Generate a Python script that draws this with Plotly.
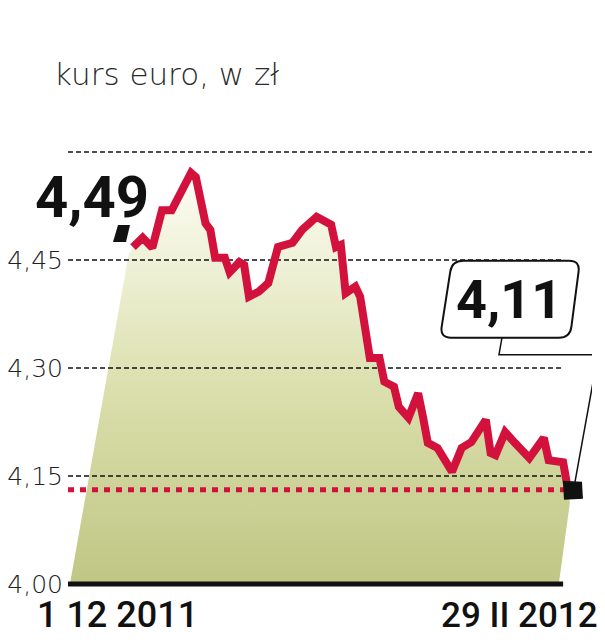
import math
import plotly.graph_objects as go

# ---------------- data ----------------
title_text = "kurs euro, w zł"
start_label = "1 12 2011"
end_label = "29 II 2012"
first_label = "4,49"
last_label = "4,11"

# days since 1 XII 2011
day_offsets = [0, 2, 4, 6, 8, 12, 13, 15, 16, 17, 19, 20, 22, 23, 24, 26, 28, 30, 33, 35,
               38, 41, 42, 43, 44, 46, 47, 48, 49, 51, 52, 54, 55, 57, 59, 60, 61, 63, 66,
               68, 70, 73, 74, 75, 77, 79, 82, 85, 86, 89, 90]
eur_pln = [4.468, 4.481, 4.467, 4.519, 4.519, 4.571, 4.565, 4.501, 4.492, 4.453, 4.453,
           4.433, 4.447, 4.443, 4.399, 4.406, 4.418, 4.468, 4.474, 4.492, 4.510, 4.499,
           4.468, 4.471, 4.404, 4.413, 4.399, 4.357, 4.314, 4.314, 4.281, 4.274, 4.246,
           4.231, 4.265, 4.232, 4.196, 4.189, 4.156, 4.189, 4.197, 4.228, 4.182, 4.179,
           4.211, 4.196, 4.175, 4.203, 4.172, 4.169, 4.131]

y_tick_vals = [4.00, 4.15, 4.30, 4.45]
y_tick_text = ["4,00", "4,15", "4,30", "4,45"]
grid_levels = [4.15, 4.30, 4.45, 4.60]

# ---------------- geometry / styling ----------------
W, H = 597, 632          # page body has an 8px margin
PX_PER_DAY = 4.833
PX_PER_UNIT = 720.0
ML, MR, MT, MB = 60, 13, 132, 52
x_min = -65 / PX_PER_DAY
x_max = x_min + (W - ML - MR) / PX_PER_DAY
y_min = 4.00 - 4 / PX_PER_UNIT
y_max = y_min + (H - MT - MB) / PX_PER_UNIT
PW = W - ML - MR

RED = "#d2123d"
INK = "#111111"
LIGHT = "DejaVu Sans"
HEAVY = "Roboto"

x_first, y_first = day_offsets[0], eur_pln[0]
x_last, y_last = day_offsets[-1], eur_pln[-1]
x_bar_end = x_last - 1.0

fig = go.Figure()

# gradient area (stylised slanted edges)
fill_x = [x_min + 0.4, x_first - 0.9] + day_offsets + [x_last + 0.4, x_last - 1.9]
fill_y = [y_tick_vals[0], y_first - 0.01] + eur_pln + [y_last - 0.018, y_tick_vals[0]]
fig.add_trace(go.Scatter(
    x=fill_x, y=fill_y, mode="lines", fill="toself", line=dict(width=0),
    fillgradient=dict(type="vertical",
                      colorscale=[[0, "#c0c684"], [0.45, "#d9deaa"], [1, "#fdfdf4"]],
                      start=4.0, stop=4.57),
    hoverinfo="skip", showlegend=False))

# dashed grid lines
for lvl in grid_levels:
    x_end = x_max if lvl == grid_levels[-1] else x_bar_end
    fig.add_trace(go.Scatter(
        x=[x_min, x_end], y=[lvl, lvl], mode="lines",
        line=dict(color=INK, width=1.5, dash="5px,3px"),
        hoverinfo="skip", showlegend=False))

# red dotted level of last value
fig.add_trace(go.Scatter(
    x=[x_min, x_last], y=[y_last, y_last], mode="lines",
    line=dict(color=RED, width=5, dash="6px,6px"),
    hoverinfo="skip", showlegend=False))

# baseline bar
fig.add_trace(go.Scatter(
    x=[x_min, x_bar_end], y=[y_tick_vals[0]] * 2, mode="lines",
    line=dict(color=INK, width=5), hoverinfo="skip", showlegend=False))

# main line
fig.add_trace(go.Scatter(
    x=day_offsets, y=eur_pln, mode="lines",
    line=dict(color=RED, width=8), showlegend=False))


def rounded_path(pts, r):
    out = []
    n = len(pts)
    for i in range(n):
        px, py = pts[i]
        ax, ay = pts[i - 1]
        bx, by = pts[(i + 1) % n]
        da = math.hypot(ax - px, ay - py)
        db = math.hypot(bx - px, by - py)
        s = (px + r * (ax - px) / da, py + r * (ay - py) / da)
        e = (px + r * (bx - px) / db, py + r * (by - py) / db)
        out.append(("L" if out else "M") + f" {s[0]:.1f},{s[1]:.1f}")
        out.append(f"Q {px},{py} {e[0]:.1f},{e[1]:.1f}")
    return " ".join(out) + " Z"


box_pts = [(-116, 229), (12, 229), (2, 152), (-128, 152)]
connector = "M -66,152 L -69,135 L 30,135 L 6,2"

shapes = [
    dict(type="path", xref="x", yref="y", xsizemode="pixel", ysizemode="pixel",
         xanchor=x_last, yanchor=y_last, path=connector,
         line=dict(color=INK, width=1.5), layer="above"),
    dict(type="path", xref="x", yref="y", xsizemode="pixel", ysizemode="pixel",
         xanchor=x_last, yanchor=y_last, path=rounded_path(box_pts, 11),
         line=dict(color=INK, width=2), fillcolor="white", layer="above"),
    # slightly tilted end marker
    dict(type="path", xref="x", yref="y", xsizemode="pixel", ysizemode="pixel",
         xanchor=x_last, yanchor=y_last,
         path="M -5,9 L 14,8 L 15,-9 L -4,-10 Z",
         line=dict(width=0), fillcolor=INK, layer="above"),
    # start tick under the big label
    dict(type="path", xref="x", yref="y", xsizemode="pixel", ysizemode="pixel",
         xanchor=x_first, yanchor=y_first,
         path="M -15,22 L -3,22 L -7,5 L -20,5 Z",
         line=dict(width=0), fillcolor=INK, layer="above"),
]

annotations = [
    dict(text=title_text, xref="paper", yref="paper", x=-16 / PW, y=1,
         xanchor="left", yanchor="middle", yshift=66, showarrow=False,
         font=dict(family=LIGHT, size=31, color="#2a2a2a", weight=200)),
    dict(text=first_label, xref="x", yref="y", x=x_first, y=y_first,
         xanchor="right", yanchor="middle", xshift=18, yshift=50, showarrow=False,
         font=dict(family=HEAVY, size=58, color=INK, weight="bold")),
    dict(text=last_label, xref="x", yref="y", x=x_last, y=y_last,
         xanchor="center", yanchor="middle", xshift=-59, yshift=190, showarrow=False,
         font=dict(family=HEAVY, size=54, color=INK, weight="bold")),
    dict(text=start_label, xref="paper", yref="paper", x=-33 / PW, y=0,
         xanchor="left", yanchor="middle", yshift=-27, showarrow=False,
         font=dict(family=HEAVY, size=36, color=INK, weight=500)),
    dict(text=end_label, xref="paper", yref="paper", x=532 / PW, y=0,
         xanchor="right", yanchor="middle", yshift=-27, showarrow=False,
         font=dict(family=HEAVY, size=35, color=INK, weight=500)),
]

fig.update_layout(
    width=W, height=H,
    margin=dict(l=ML, r=MR, t=MT, b=MB, pad=0, autoexpand=False),
    paper_bgcolor="white", plot_bgcolor="white",
    shapes=shapes, annotations=annotations,
    xaxis=dict(range=[x_min, x_max], visible=False, fixedrange=True, automargin=False),
    yaxis=dict(range=[y_min, y_max], tickvals=y_tick_vals, ticktext=y_tick_text,
               showgrid=False, zeroline=False, showline=False, ticks="",
               ticklabelstandoff=4, fixedrange=True, automargin=False,
               tickfont=dict(family=LIGHT, size=25, color="#222222", weight=200)),
    showlegend=False,
)

fig.write_html("out.html")
